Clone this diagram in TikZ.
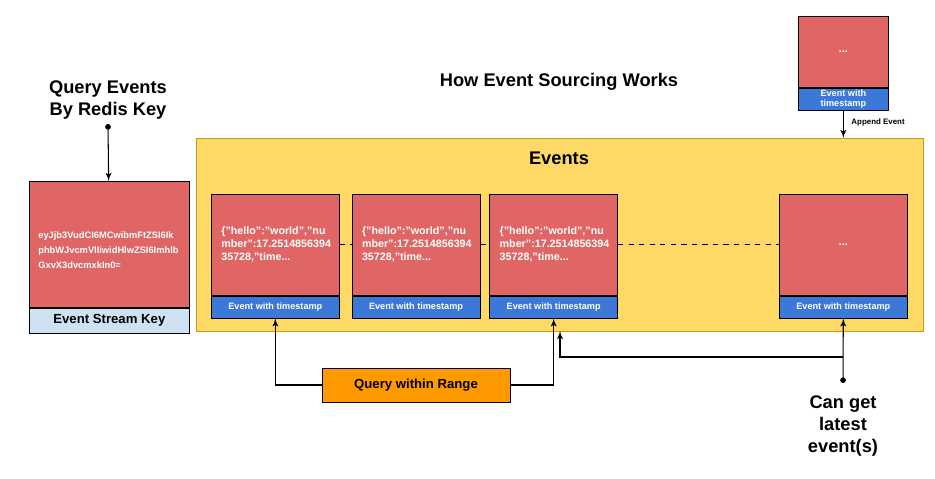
\documentclass[tikz,border=0pt]{standalone}
\usepackage{fontspec}
\setmainfont{Liberation Sans}
\usetikzlibrary{positioning,arrows,arrows.meta}

\definecolor{evred}{HTML}{E06666}
\definecolor{evblue}{HTML}{3C78D8}
\definecolor{keyblue}{HTML}{CFE2F3}
\definecolor{logyellow}{HTML}{FFD966}
\definecolor{logborder}{HTML}{C99A1E}
\definecolor{rangeorange}{HTML}{FF9900}

\begin{document}
\begin{tikzpicture}[x=0.02cm, y=-0.02cm, font=\bfseries]

\tikzstyle{payload} = [rectangle, draw, fill=evred, text=white, inner sep=0pt,
minimum width=2.56cm, minimum height=2.02cm, text width=2.16cm, align=left,
font=\fontsize{6.1}{7.4}\selectfont\bfseries]
\tikzstyle{stamp} = [rectangle, draw, fill=evblue, text=white, inner sep=0pt,
minimum width=2.56cm, minimum height=0.44cm, align=center,
font=\fontsize{5.2}{5.8}\selectfont\bfseries]
\tikzstyle{heading} = [align=center, font=\fontsize{10.4}{12}\selectfont\bfseries]
\tikzstyle{line} = [draw, -latex', line width=0.6pt]
\tikzstyle{dotline} = [draw, {Circle[length=3.2pt]}-latex', line width=0.6pt]
\tikzstyle{link} = [draw, dashed, thin]

\useasboundingbox (0,0) rectangle (935,479);

\node [heading] (title) at (559,82) {How Event Sourcing Works};

% stream key
\node [heading] (query) at (108,100) {Query Events\\By Redis Key};
\node [rectangle, draw, fill=evred, text=white, anchor=north west, inner sep=0pt,
minimum width=3.2cm, minimum height=2.52cm, text width=2.84cm, align=left,
text height=10.6pt, font=\fontsize{5.3}{8.5}\selectfont\bfseries] (key) at (29,181)
{eyJjb3VudCI6MCwibmFtZSI6Ik\\phbWJvcmVlIiwidHlwZSI6Imhlb\\GxvX3dvcmxkIn0=};
\node [rectangle, draw, fill=keyblue, below=0pt of key, inner sep=0pt,
minimum width=3.2cm, minimum height=0.5cm,
font=\fontsize{7.5}{9}\selectfont\bfseries] (key-label) {Event Stream Key};
\coordinate (query-dot) at (108,124);
\path [dotline] (query-dot) -- (key);

% event log
\node [rectangle, draw=logborder, fill=logyellow, anchor=north west,
minimum width=14.54cm, minimum height=3.86cm] (events) at (196,138) {};
\node [heading] (events-title) at (559,158) {Events};

\node [payload, anchor=north west] (e1) at (211,194)
{\{"hello":"world","nu\\mber":17.2514856394\\35728,"time...};
\node [stamp, below=0pt of e1] (s1) {Event with timestamp};
\node [payload, right=0.24cm of e1] (e2)
{\{"hello":"world","nu\\mber":17.2514856394\\35728,"time...};
\node [stamp, below=0pt of e2] (s2) {Event with timestamp};
\node [payload, right=0.18cm of e2] (e3)
{\{"hello":"world","nu\\mber":17.2514856394\\35728,"time...};
\node [stamp, below=0pt of e3] (s3) {Event with timestamp};
\node [payload, anchor=north west, align=center] (e4) at (779,194) {...};
\node [stamp, below=0pt of e4] (s4) {Event with timestamp};

\path [link] (e1) -- (e2);
\path [link] (e2) -- (e3);
\path [link] (e3) -- (e4);

% incoming event
\node [payload, anchor=north west, minimum width=1.8cm, minimum height=1.42cm,
text width=1.4cm, align=center] (new) at (798,16) {...};
\node [stamp, below=0pt of new, minimum width=1.8cm] (new-stamp) {Event with\\timestamp};
\path [line] (new-stamp) -- (new-stamp |- events.north)
node [right, pos=0.45, xshift=1pt, font=\fontsize{4.5}{5}\selectfont\bfseries] {Append Event};

% range query
\node [rectangle, draw, fill=rangeorange, inner sep=0pt, minimum width=3.76cm,
minimum height=0.68cm, font=\fontsize{7.5}{9}\selectfont\bfseries] (range) at (416,385)
{Query within Range};
\path [line] (range.west) -| (s1);
\path [line] (range.east) -| (s3);

% latest
\coordinate (latest-dot) at (843,383);
\node [heading, below=0.14cm of latest-dot, font=\fontsize{10.4}{12.5}\selectfont\bfseries] (latest)
{Can get\\latest\\event(s)};
\path [dotline] (latest-dot) -- (s4);
\coordinate (fork) at (843,357);
\coordinate (tap) at (560,331);
\path [line] (fork) -| (tap);

\end{tikzpicture}
\end{document}
